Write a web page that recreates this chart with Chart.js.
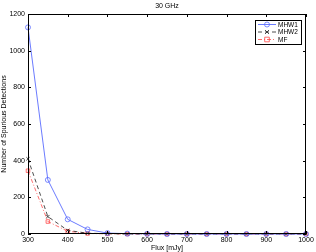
<!DOCTYPE html>
<html>
<head>
<meta charset="utf-8">
<script src="https://cdn.jsdelivr.net/npm/chart.js@4.4.0/dist/chart.umd.min.js"></script>
<style>
  html, body { margin: 0; padding: 0; background: #fff; }
  #wrap { width: 316px; height: 252px; }
</style>
</head>
<body>
<div id="wrap"><canvas id="c" width="316" height="252"></canvas></div>
<script>
// flux values (mJy)
const flux = [300, 350, 400, 450, 500, 550, 600, 650, 700, 750, 800, 850, 900, 950, 1000];
const mhw1 = [1127, 295, 80, 25, 5, 2, 1, 0, 0, 0, 0, 0, 0, 0, 0];
const mhw2 = [410, 95, 20, 4, 2, 0, 0, 0, 0, 0, 0, 0, 0, 0, 0];
const mf = [345, 68, 15, 3, 1, 0, 0, 0, 0, 0, 0, 0, 0, 0, 0];
const xTicks = [300, 400, 500, 600, 700, 800, 900, 1000];
const yTicks = [0, 200, 400, 600, 800, 1000, 1200];

const FONT = 'Liberation Sans, Arial, sans-serif';

function pts(arr) {
    return arr.map((v, i) => ({ x: flux[i], y: v }));
}

// ticks inward on all four sides + box + legend, matlab style
const framePlugin = {
    id: 'frame',
    afterDraw(chart) {
        const ctx = chart.ctx;
        const a = chart.chartArea;
        const xs = chart.scales.x, ys = chart.scales.y;
        ctx.save();
        ctx.strokeStyle = '#000';
        ctx.lineWidth = 1;
        ctx.strokeRect(a.left + 0.5, a.top + 0.5, a.right - a.left - 1, a.bottom - a.top - 1);
        ctx.beginPath();
        xTicks.forEach(t => {
            const px = Math.round(xs.getPixelForValue(t)) + 0.5;
            ctx.moveTo(px, a.bottom); ctx.lineTo(px, a.bottom - 3);
            ctx.moveTo(px, a.top); ctx.lineTo(px, a.top + 3);
        });
        yTicks.forEach(t => {
            const py = Math.round(ys.getPixelForValue(t)) + 0.5;
            ctx.moveTo(a.left, py); ctx.lineTo(a.left + 3, py);
            ctx.moveTo(a.right, py); ctx.lineTo(a.right - 3, py);
        });
        ctx.stroke();

        // title
        ctx.fillStyle = '#000';
        ctx.font = '7px ' + FONT;
        ctx.textAlign = 'center';
        ctx.textBaseline = 'middle';
        ctx.fillText('30 GHz', (a.left + a.right) / 2, 6);

        // legend
        const lx = 255, ly = 20, lw = 46, lh = 24;
        ctx.fillStyle = '#fff';
        ctx.fillRect(lx, ly, lw, lh);
        ctx.strokeRect(lx + 0.5, ly + 0.5, lw, lh);
        chart.data.datasets.forEach((ds, i) => {
            const y = ly + 4.5 + i * 7.5;
            ctx.strokeStyle = ds.borderColor;
            ctx.lineWidth = ds.borderWidth;
            ctx.setLineDash(ds.borderDash || []);
            ctx.beginPath();
            ctx.moveTo(lx + 3, y); ctx.lineTo(lx + 21, y);
            ctx.stroke();
            ctx.setLineDash([]);
            drawMarker(ctx, ds.pointStyle, lx + 12, y, ds.pointBorderColor);
            ctx.fillStyle = '#000';
            ctx.textAlign = 'left';
            ctx.font = '6.5px ' + FONT;
            ctx.fillText(ds.label, lx + 23, y + 0.5);
        });
        ctx.restore();
    }
};

function drawMarker(ctx, style, x, y, color) {
    ctx.strokeStyle = color;
    ctx.lineWidth = 0.8;
    ctx.beginPath();
    if (style === 'circle') {
        ctx.arc(x, y, 2.5, 0, Math.PI * 2);
    } else if (style === 'rect') {
        ctx.rect(x - 2.3, y - 2.3, 4.6, 4.6);
    } else {
        ctx.moveTo(x - 2, y - 2); ctx.lineTo(x + 2, y + 2);
        ctx.moveTo(x + 2, y - 2); ctx.lineTo(x - 2, y + 2);
    }
    ctx.stroke();
}

new Chart(document.getElementById('c'), {
    type: 'line',
    data: {
        datasets: [
            {
                label: 'MHW1',
                data: pts(mhw1),
                borderColor: '#5a6cff',
                pointBorderColor: '#5a6cff',
                pointBackgroundColor: 'rgba(0,0,0,0)',
                pointStyle: 'circle',
                pointRadius: 2.5,
                pointBorderWidth: 0.8,
                borderWidth: 0.9,
                tension: 0,
                fill: false
            },
            {
                label: 'MHW2',
                data: pts(mhw2),
                borderColor: '#222',
                pointBorderColor: '#222',
                pointBackgroundColor: 'rgba(0,0,0,0)',
                pointStyle: 'crossRot',
                pointRadius: 2.3,
                pointBorderWidth: 0.8,
                borderWidth: 0.8,
                borderDash: [4, 3],
                tension: 0,
                fill: false
            },
            {
                label: 'MF',
                data: pts(mf),
                borderColor: '#ff4a4a',
                pointBorderColor: '#ff4a4a',
                pointBackgroundColor: 'rgba(0,0,0,0)',
                pointStyle: 'rect',
                pointRadius: 2.5,
                pointBorderWidth: 0.8,
                borderWidth: 0.8,
                borderDash: [4, 2, 1, 2],
                tension: 0,
                fill: false
            }
        ]
    },
    options: {
        responsive: false,
        animation: false,
        clip: false,
        layout: { padding: { top: 14, right: 10, left: 0, bottom: 0 } },
        plugins: {
            legend: { display: false },
            title: { display: false },
            tooltip: { enabled: false }
        },
        scales: {
            x: {
                type: 'linear',
                min: 300,
                max: 1000,
                afterBuildTicks(scale) { scale.ticks = xTicks.map(v => ({ value: v })); },
                afterFit(scale) { scale.height = 18; },
                grid: { display: false, drawTicks: false },
                border: { display: false },
                ticks: { color: '#000', font: { size: 7, family: FONT }, padding: 2, maxRotation: 0, callback: v => String(v) },
                title: { display: true, text: 'Flux [mJy]', color: '#000', font: { size: 7, family: FONT }, padding: 0 }
            },
            y: {
                type: 'linear',
                min: 0,
                max: 1200,
                afterBuildTicks(scale) { scale.ticks = yTicks.map(v => ({ value: v })); },
                afterFit(scale) { scale.width = 28; },
                grid: { display: false, drawTicks: false },
                border: { display: false },
                ticks: { color: '#000', font: { size: 7, family: FONT }, padding: 3, callback: v => String(v) },
                title: { display: true, text: 'Number of Spurious Detections', color: '#000', font: { size: 7, family: FONT }, padding: 0 }
            }
        }
    },
    plugins: [framePlugin]
});
</script>
</body>
</html>
